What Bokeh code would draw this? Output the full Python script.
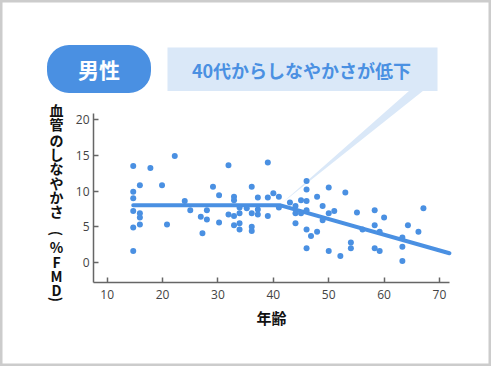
import math
from bokeh.plotting import figure
from bokeh.models import Range1d, FixedTicker, Label
from bokeh.embed import file_html
from bokeh.resources import INLINE

# ---- data ----
age = [14.7, 14.7, 14.7, 14.7, 14.7, 14.7,
       15.9, 15.9, 15.9, 15.9,
       17.8, 19.9, 20.8, 22.2, 24.0, 25.0,
       26.9, 28.0, 28.0, 27.2, 29.1, 30.2, 30.2,
       31.9, 31.9, 32.9, 32.9, 32.9, 32.9,
       33.9, 33.9, 33.9, 33.9, 35.2,
       36.1, 36.1, 36.1, 36.1,
       37.2, 37.2, 37.2,
       39.0, 39.0, 39.0,
       40.0, 41.0, 41.0, 43.0,
       44.0, 44.0, 44.0, 45.0, 45.0,
       46.0, 46.0, 46.0, 46.0, 46.0, 46.0,
       46.8, 47.9, 47.9, 48.9, 48.9,
       50.0, 50.0, 50.0, 51.0, 52.1, 53.0,
       54.0, 54.0, 55.1, 56.1,
       58.3, 58.3, 58.3, 59.2, 59.2, 60.0,
       63.3, 63.3, 63.3, 64.3, 66.2, 67.1]
fmd = [13.5, 9.9, 9.0, 7.2, 4.9, 1.6,
       10.8, 6.9, 6.3, 5.3,
       13.2, 10.8, 5.3, 14.9, 8.6, 7.3,
       6.4, 6.0, 7.3, 4.1, 10.6, 9.4, 5.6,
       13.6, 6.7, 9.2, 8.7, 6.5, 5.2,
       7.7, 6.9, 5.5, 4.6, 7.6,
       10.6, 6.9, 5.0, 4.4,
       9.1, 7.4, 6.7,
       14.0, 9.1, 6.5,
       9.7, 9.2, 7.7, 8.4,
       7.9, 6.9, 5.5, 8.7, 6.9,
       11.4, 10.2, 8.6, 7.3, 4.6, 2.0,
       3.7, 9.2, 4.3, 7.9, 5.9,
       10.5, 6.9, 1.6, 7.2, 0.9, 9.8,
       2.8, 2.0, 7.0, 4.6,
       7.3, 5.2, 2.0, 1.6, 4.3, 6.3,
       3.5, 2.2, 0.2, 5.2, 4.3, 7.6]
trend_age = [14.7, 41.3, 71.8]
trend_fmd = [8.0, 8.0, 1.3]
x_ticks = [10, 20, 30, 40, 50, 60, 70]
y_ticks = [0, 5, 10, 15, 20]
badge_text = "男性"
callout_text = "40代からしなやかさが低下"
x_title = "年齢"
y_title_chars = ["血", "管", "の", "し", "な", "や", "か", "さ", "(", "%", "F", "M", "D", ")"]

BLUE = "#4a90e2"
LIGHT = "#dae8f8"
CJK = "Noto Sans CJK JP"

# ---- page-pixel calibration (layout only) ----
X10 = 106.7
XS = 5.538
Y0 = 262.0
YS = 7.15


def fx(px):
    return 10 + (px - X10) / XS


def fy(py):
    return (Y0 - py) / YS


p = figure(width=491, height=366, output_backend="svg", toolbar_location=None,
           x_range=Range1d(fx(0), fx(491)), y_range=Range1d(fy(366), fy(0)),
           min_border=0)
p.outline_line_color = "#cccccc"
p.outline_line_width = 4
p.background_fill_color = "white"
p.border_fill_color = "white"
p.xgrid.visible = False
p.ygrid.visible = False

p.xaxis.fixed_location = fy(282)
p.yaxis.fixed_location = fx(93)
for ax, ticks, bounds in ((p.xaxis[0], x_ticks, (fx(93), fx(449))),
                          (p.yaxis[0], y_ticks, (fy(282), fy(113)))):
    ax.ticker = FixedTicker(ticks=ticks)
    ax.bounds = bounds
    ax.major_tick_in = 5
    ax.major_tick_out = 0
    ax.minor_tick_in = 0
    ax.minor_tick_out = 0
    ax.axis_line_color = "#666666"
    ax.axis_line_width = 1.5
    ax.major_tick_line_color = "#666666"
    ax.major_tick_line_width = 1.5
    ax.major_label_text_font = "Open Sans"
    ax.major_label_text_font_size = "12px"
    ax.major_label_text_color = "#444444"
p.xaxis.major_label_standoff = 7
p.yaxis.major_label_standoff = 4

# callout connector wedge and box
p.patch(x=[fx(409), fx(423), fx(281)], y=[fy(90), fy(90), fy(203)],
        fill_color=LIGHT, line_color=None)
p.quad(left=fx(167), right=fx(437), top=fy(47), bottom=fy(90.5),
       fill_color=LIGHT, line_color=None)

# data
p.line(trend_age, trend_fmd, line_color=BLUE, line_width=4, line_cap="round")
p.scatter(age, fmd, size=6, fill_color=BLUE, line_color=None)

# texts
p.add_layout(Label(x=fx(301), y=fy(69.5), text=callout_text, text_align="center",
                   text_baseline="middle", text_font=CJK, text_font_size="18px",
                   text_font_style="bold", text_color=BLUE))
p.add_layout(Label(x=fx(98.5), y=fy(68.5), text=badge_text, text_align="center",
                   text_baseline="middle", text_font=CJK, text_font_size="21px",
                   text_font_style="bold", text_color="white",
                   background_fill_color=BLUE, border_radius=22,
                   padding=dict(left=31, right=31, top=9, bottom=9)))
p.add_layout(Label(x=fx(271), y=fy(316.5), text=x_title, text_align="center",
                   text_baseline="middle", text_font=CJK, text_font_size="15px",
                   text_font_style="bold", text_color="#111111"))

y_pos = [109, 123.7, 139, 153.3, 167.7, 182.3, 196.7, 210.7, 233, 246.7, 261.7,
         275.7, 289, 299]
for ch, py in zip(y_title_chars, y_pos):
    ang = -math.pi / 2 if ch in "()" else 0
    p.add_layout(Label(x=fx(56), y=fy(py), text=ch, angle=ang, text_align="center",
                       text_baseline="middle", text_font=CJK, text_font_size="14px",
                       text_font_style="bold", text_color="#111111"))

html = file_html(p, INLINE)
html = html.replace("</head>", "<style>html,body{margin:0;padding:0;}</style></head>", 1)
open("out.html", "w").write(html)
